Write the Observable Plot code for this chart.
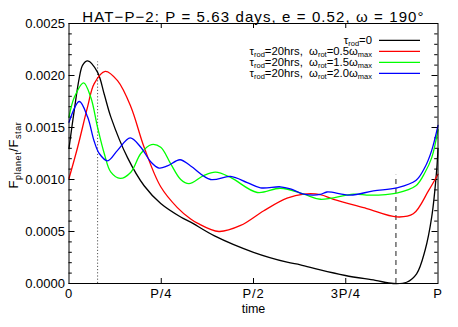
<!DOCTYPE html>
<html><head><meta charset="utf-8">
<script src="https://cdn.jsdelivr.net/npm/d3@7"></script>
<script src="https://cdn.jsdelivr.net/npm/@observablehq/plot@0.6"></script>
<style>
body{margin:0;background:#fff;}
svg{font-family:"Liberation Sans",Arial,Helvetica,sans-serif;}
</style>
</head><body><div id="chart"></div>
<script>
// ---------- data (time as fraction of period P, flux ratio) ----------
const title = "HAT−P−2: P = 5.63 days, e = 0.52, ω = 190°";
const xLabel = "time";
const xTickValues = [0, 0.25, 0.5, 0.75, 1];
const xTickLabels = ["0", "P/4", "P/2", "3P/4", "P"];
const yMajorTicks = [0, 0.0005, 0.0010, 0.0015, 0.0020, 0.0025];
const yMinorTicks = [0.0001,0.0002,0.0003,0.0004,0.0006,0.0007,0.0008,0.0009,
  0.0011,0.0012,0.0013,0.0014,0.0016,0.0017,0.0018,0.0019,
  0.0021,0.0022,0.0023,0.0024];

const seriesColors = ["#000000", "#ff0000", "#00ff00", "#0000ff"];

const tau0 = [[0,0.0013],[0.0144,0.00167],[0.028,0.00198],[0.037,0.0021],[0.0505,0.00214],
  [0.0775,0.00203],[0.0955,0.00182],[0.1135,0.0016],[0.1586,0.00121],[0.2036,0.00094],
  [0.2486,0.00077],[0.3027,0.00064],[0.3297,0.00059],[0.393,0.00046],[0.5,0.0003],
  [0.591,0.000205],[0.627,0.00018],[0.681,0.00013],[0.749,0.000077],[0.83,0.00003],
  [0.879,0.0],[0.915,0.000012],[0.942,0.000093],[0.965,0.00032],[0.983,0.00064],
  [0.9964,0.00109],[1,0.0013]];

const rot05 = [[0,0.00101],[0.0234,0.00131],[0.0505,0.0017],[0.068,0.00192],[0.098,0.00204],
  [0.1315,0.00195],[0.1676,0.0017],[0.2036,0.00131],[0.2486,0.00093],[0.2937,0.00073],
  [0.3297,0.00062],[0.348,0.00058],[0.406,0.0005],[0.465,0.000558],[0.528,0.0007],
  [0.591,0.00082],[0.636,0.00086],[0.681,0.000855],[0.717,0.00081],[0.807,0.00072],
  [0.888,0.00064],[0.933,0.00067],[0.974,0.00089],[1,0.00105]];

const rot15 = [[0,0.0016],[0.0144,0.00179],[0.0396,0.00193],[0.059,0.00179],[0.0775,0.0015],
  [0.0955,0.00125],[0.1135,0.00107],[0.1387,0.00101],[0.1676,0.00107],[0.1946,0.00125],
  [0.2234,0.001336],[0.2486,0.00131],[0.2757,0.00115],[0.3027,0.001],[0.325,0.00096],
  [0.366,0.00104],[0.397,0.00107],[0.4378,0.00102],[0.51,0.000875],[0.573,0.000916],
  [0.636,0.00086],[0.681,0.00081],[0.771,0.00086],[0.816,0.00085],[0.888,0.00087],
  [0.94,0.00094],[0.965,0.00107],[0.983,0.00121],[1,0.00148]];

const rot20 = [[0,0.00155],[0.028,0.00175],[0.0505,0.0016],[0.068,0.00137],[0.082,0.00125],
  [0.1045,0.00118],[0.1315,0.00128],[0.1658,0.0014],[0.1946,0.00131],[0.2216,0.00117],
  [0.244,0.00111],[0.2667,0.00113],[0.3009,0.00119],[0.3297,0.00113],[0.3838,0.001],
  [0.4378,0.00103],[0.483,0.00097],[0.519,0.00092],[0.573,0.00093],[0.6,0.00091],
  [0.636,0.00086],[0.681,0.000856],[0.699,0.00088],[0.762,0.00085],[0.825,0.00089],
  [0.888,0.00092],[0.94,0.00099],[0.965,0.00112],[0.983,0.00128],[1,0.00152]];

const seriesData = [tau0, rot05, rot15, rot20];

// vertical marker lines: [time, top value]
const dottedMarker = [[0.0775, 0.00213]];
const dashedMarker = [[0.886, 0.00104]];

// legend entries: segments [text, isSubscript]
const legendEntries = [
  [["τ",0],["rod",1],["=0",0]],
  [["τ",0],["rod",1],["=20hrs,  ω",0],["rot",1],["=0.5ω",0],["max",1]],
  [["τ",0],["rod",1],["=20hrs,  ω",0],["rot",1],["=1.5ω",0],["max",1]],
  [["τ",0],["rod",1],["=20hrs,  ω",0],["rot",1],["=2.0ω",0],["max",1]]
];
const yLabelParts = [["F",0],["planet",1],["/F",0],["star",1]];

// ---------- layout ----------
const W = 458, H = 327;
const mL = 68.5, mR = 20.5, mT = 23, mB = 44;
const pw = W - mL - mR, ph = H - mT - mB;
const majL = 6, minL = 3.3, xTL = 5;

const rows = [];
seriesData.forEach((s, k) => s.forEach(([t, v]) => rows.push({t, v, k})));

const marks = [
  Plot.axisX(xTickValues, {tickSize: 0, tickPadding: 5, fontSize: 13,
    tickFormat: d => xTickLabels[xTickValues.indexOf(d)], label: null}),
  Plot.axisY(yMajorTicks, {tickSize: 0, tickPadding: 4, fontSize: 13,
    tickFormat: d => d.toFixed(4), label: null}),
  // inward ticks
  Plot.tickY(yMajorTicks, {y: d => d, insetRight: pw - majL, stroke: "black"}),
  Plot.tickY(yMajorTicks, {y: d => d, insetLeft: pw - majL, stroke: "black"}),
  Plot.tickY(yMinorTicks, {y: d => d, insetRight: pw - minL, stroke: "black"}),
  Plot.tickY(yMinorTicks, {y: d => d, insetLeft: pw - minL, stroke: "black"}),
  Plot.tickX(xTickValues.slice(1, -1), {x: d => d, insetTop: ph - xTL, stroke: "black"}),
  Plot.tickX(xTickValues.slice(1, -1), {x: d => d, insetBottom: ph - xTL, stroke: "black"}),
  // markers
  Plot.ruleX(dottedMarker, {x: d => d[0], y1: 0, y2: d => d[1], stroke: "#555", strokeDasharray: "1.2,2"}),
  Plot.ruleX(dashedMarker, {x: d => d[0], y1: 0, y2: d => d[1], stroke: "#444", strokeDasharray: "5,4", strokeWidth: 1.2}),
  // curves
  Plot.line(rows, {x: "t", y: "v", z: "k", stroke: d => seriesColors[d.k], curve: "catmull-rom", strokeWidth: 1.3}),
  Plot.frame({stroke: "black", strokeWidth: 1}),
  Plot.text([title], {frameAnchor: "top", dy: -12, fontSize: 15, fill: "black"}),
  Plot.text([xLabel], {frameAnchor: "bottom", dy: 29, fontSize: 12.5, fill: "black"})
];

const chart = Plot.plot({
  width: W, height: H, marginLeft: mL, marginRight: mR, marginTop: mT, marginBottom: mB,
  style: {fontFamily: '"Liberation Sans", Arial, Helvetica, sans-serif', fontSize: "13px", background: "white", color: "black"},
  x: {domain: [0, 1]},
  y: {domain: [0, 0.0025]},
  color: {type: "identity"},
  marks
});
document.getElementById("chart").appendChild(chart);

const svg = d3.select(chart);
svg.selectAll("text").filter(function(){ return this.textContent === title; })
  .style("letter-spacing", "1.1px");
svg.selectAll("text").filter(function(){ return xTickLabels.includes(this.textContent); })
  .style("letter-spacing", "0.8px");

// legend
const lx = 372, sx1 = 379, sx2 = 420, ly0 = 40.3, lstep = 11;
const lg = svg.append("g").attr("class", "legend");
legendEntries.forEach((segs, i) => {
  const y = ly0 + i * lstep;
  const t = lg.append("text").attr("x", lx).attr("y", y + 3.8)
    .attr("text-anchor", "end").attr("font-size", 11.3).attr("fill", "black");
  let sub = false;
  segs.forEach(([s, isSub]) => {
    const ts = t.append("tspan").text(s);
    if (isSub && !sub) { ts.attr("dy", 1.4).attr("font-size", 7.5); sub = true; }
    else if (isSub) { ts.attr("font-size", 7.5); }
    else if (!isSub && sub) { ts.attr("dy", -1.4); sub = false; }
  });
  lg.append("line").attr("x1", sx1).attr("x2", sx2).attr("y1", y).attr("y2", y)
    .attr("stroke", seriesColors[i]).attr("stroke-width", 1.3);
});

// y label
const yl = svg.append("text").attr("transform", "translate(18,155) rotate(-90)")
  .attr("text-anchor", "middle").attr("font-size", 13).attr("fill", "black")
  .style("letter-spacing", "0.6px");
let subOn = false;
yLabelParts.forEach(([s, isSub]) => {
  const ts = yl.append("tspan").text(s);
  if (isSub) { ts.attr("font-size", 9).attr("dy", subOn ? 0 : 3); subOn = true; }
  else if (subOn) { ts.attr("dy", -3); subOn = false; }
});
</script>
</body></html>
